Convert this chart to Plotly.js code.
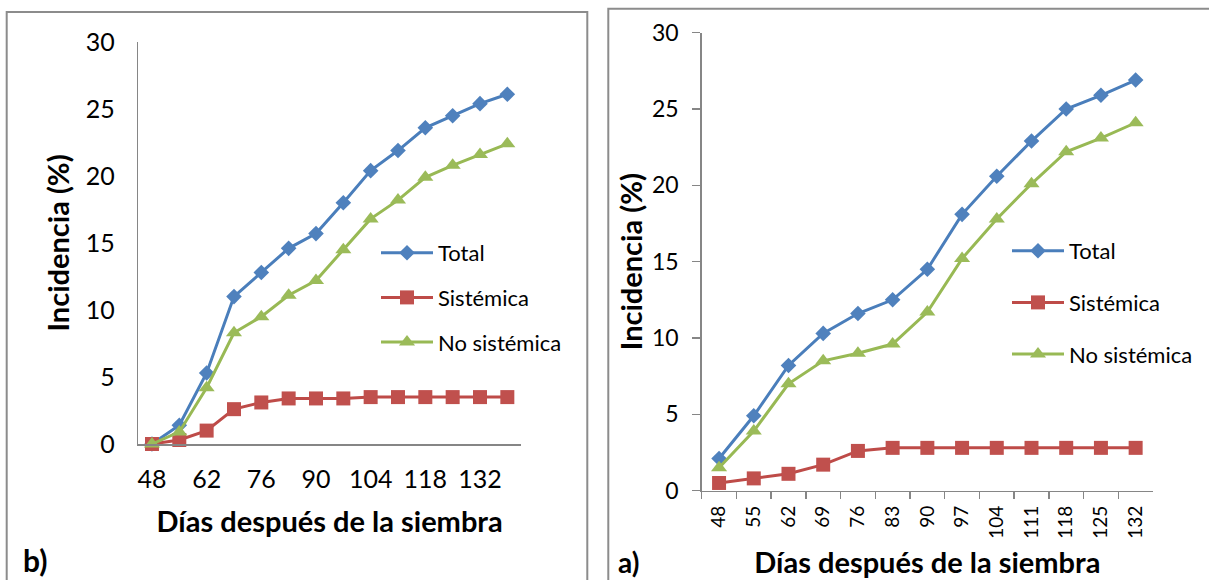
<!DOCTYPE html>
<html>
<head>
<meta charset="utf-8">
<script src="https://cdn.plot.ly/plotly-3.0.1.min.js"></script>
<style>html,body{margin:0;padding:0;background:#fff;}#chart{width:1209px;height:580px;}</style>
</head>
<body>
<div id="chart"></div>
<script>
// Panel b)
const daysB = ['48','55','62','69','76','83','90','97','104','111','118','125','132','139'];
const tickDaysB = ['48','62','76','90','104','118','132'];
const totalB = [0, 1.4, 5.3, 11.0, 12.8, 14.6, 15.7, 18.0, 20.4, 21.9, 23.6, 24.5, 25.4, 26.1];
const sistemicaB = [0, 0.3, 1.0, 2.6, 3.1, 3.4, 3.4, 3.4, 3.5, 3.5, 3.5, 3.5, 3.5, 3.5];
const noSistemicaB = [0, 0.9, 4.2, 8.3, 9.5, 11.1, 12.2, 14.5, 16.8, 18.2, 19.9, 20.8, 21.6, 22.4];

// Panel a)
const daysA = ['48','55','62','69','76','83','90','97','104','111','118','125','132'];
const totalA = [2.1, 4.9, 8.2, 10.3, 11.6, 12.5, 14.5, 18.1, 20.6, 22.9, 25.0, 25.9, 26.9];
const sistemicaA = [0.5, 0.8, 1.1, 1.7, 2.6, 2.8, 2.8, 2.8, 2.8, 2.8, 2.8, 2.8, 2.8];
const noSistemicaA = [1.5, 3.9, 7.0, 8.5, 9.0, 9.6, 11.7, 15.2, 17.8, 20.1, 22.2, 23.1, 24.1];

const yTicks = [0, 5, 10, 15, 20, 25, 30];
const seriesNames = ['Total', 'Sistémica', 'No sistémica'];

const W = 1209, H = 580;
const px = v => v / W;
const py = v => 1 - v / H;

const FONT = 'Lato, "Open Sans", sans-serif';
const blue = '#4A7EBB', red = '#BE4B48', green = '#98B954';
const mBlue = '#4F81BD', mRed = '#C0504D', mGreen = '#9BBB59';

function mk(x, y, name, color, mcolor, symbol, size, xa, ya, leg) {
  return {
    type: 'scatter', mode: 'lines+markers', x: x, y: y, name: name,
    xaxis: xa, yaxis: ya, legend: leg, legendgroup: leg + name,
    line: {color: color, width: 3},
    marker: {symbol: symbol, size: size, color: mcolor, line: {width: 0}},
    cliponaxis: false
  };
}

const data = [
  mk(daysB, totalB, seriesNames[0], blue, mBlue, 'diamond', 12, 'x', 'y', 'legend'),
  mk(daysB, sistemicaB, seriesNames[1], red, mRed, 'square', 14, 'x', 'y', 'legend'),
  mk(daysB, noSistemicaB, seriesNames[2], green, mGreen, 'triangle-up', 14, 'x', 'y', 'legend'),
  mk(daysA, totalA, seriesNames[0], blue, mBlue, 'diamond', 12, 'x2', 'y2', 'legend2'),
  mk(daysA, sistemicaA, seriesNames[1], red, mRed, 'square', 14, 'x2', 'y2', 'legend2'),
  mk(daysA, noSistemicaA, seriesNames[2], green, mGreen, 'triangle-up', 14, 'x2', 'y2', 'legend2')
];

const axisLine = '#868686';
const titleFont = {family: FONT, size: 29, color: '#000', weight: 700};

const layout = {
  width: W, height: H,
  margin: {l: 0, r: 0, t: 0, b: 0},
  paper_bgcolor: '#fff', plot_bgcolor: 'rgba(0,0,0,0)',
  font: {family: FONT, color: '#000'},
  showlegend: true,
  xaxis: {
    domain: [px(138.3), px(521)], anchor: 'y', type: 'category',
    range: [-0.5, 13.5], tickmode: 'array', tickvals: tickDaysB, ticktext: tickDaysB,
    showgrid: false, zeroline: false, showline: true, linecolor: axisLine, linewidth: 1.5,
    ticks: '', ticklabelstandoff: 12,
    tickfont: {family: FONT, size: 25, color: '#000'},
    title: {text: 'Días después de la siembra', font: titleFont, standoff: 20},
    automargin: false
  },
  yaxis: {
    domain: [py(444), py(42)], anchor: 'x',
    range: [0, 30], tickmode: 'array', tickvals: yTicks,
    showgrid: false, zeroline: false, showline: true, linecolor: axisLine, linewidth: 1.5,
    ticks: '', ticklabelstandoff: 17,
    tickfont: {family: FONT, size: 25, color: '#000'},
    title: {text: 'Incidencia (%)', font: titleFont, standoff: 7},
    automargin: false
  },
  xaxis2: {
    domain: [px(701.7), px(1153)], anchor: 'y2', type: 'category',
    range: [-0.5, 12.5], tickmode: 'array', tickvals: daysA, ticktext: daysA,
    tickson: 'boundaries', tickangle: -90,
    showgrid: false, zeroline: false, showline: true, linecolor: axisLine, linewidth: 1.5,
    ticks: 'outside', ticklen: 7, tickwidth: 1.5, tickcolor: axisLine, ticklabelstandoff: 6,
    tickfont: {family: FONT, size: 19, color: '#000'},
    title: {text: 'Días después de la siembra', font: titleFont, standoff: 15},
    automargin: false
  },
  yaxis2: {
    domain: [py(490.6), py(32.7)], anchor: 'x2',
    range: [0, 30], tickmode: 'array', tickvals: yTicks,
    showgrid: false, zeroline: false, showline: true, linecolor: axisLine, linewidth: 1.5,
    ticks: 'outside', ticklen: 8, tickwidth: 1.5, tickcolor: axisLine, ticklabelstandoff: 9,
    tickfont: {family: FONT, size: 23, color: '#000'},
    title: {text: 'Incidencia (%)', font: titleFont, standoff: 1},
    automargin: false
  },
  legend: {
    x: px(376), y: py(232), xanchor: 'left', yanchor: 'top',
    bgcolor: 'rgba(0,0,0,0)', borderwidth: 0, itemwidth: 52,
    traceorder: 'grouped', tracegroupgap: 13,
    font: {family: FONT, size: 22, color: '#000'}
  },
  legend2: {
    x: px(1007), y: py(230), xanchor: 'left', yanchor: 'top',
    bgcolor: 'rgba(0,0,0,0)', borderwidth: 0, itemwidth: 52,
    traceorder: 'grouped', tracegroupgap: 20,
    font: {family: FONT, size: 22, color: '#000'}
  },
  shapes: [
    {type: 'rect', xref: 'paper', yref: 'paper', x0: px(6.7), x1: px(587.3), y0: py(600), y1: py(12),
     line: {color: '#8c8c8c', width: 2}, fillcolor: 'rgba(0,0,0,0)', layer: 'below'},
    {type: 'rect', xref: 'paper', yref: 'paper', x0: px(608.3), x1: px(1230), y0: py(600), y1: py(8.7),
     line: {color: '#8c8c8c', width: 2}, fillcolor: 'rgba(0,0,0,0)', layer: 'below'}
  ],
  annotations: [
    {text: 'b)', xref: 'paper', yref: 'paper', x: px(21), y: py(560), xanchor: 'left', yanchor: 'middle',
     showarrow: false, font: {family: FONT, size: 30, color: '#000', weight: 700}},
    {text: 'a)', xref: 'paper', yref: 'paper', x: px(616), y: py(562), xanchor: 'left', yanchor: 'middle',
     showarrow: false, font: {family: FONT, size: 28, color: '#000', weight: 700}}
  ]
};

Plotly.newPlot('chart', data, layout, {displayModeBar: false, staticPlot: true});
</script>
</body>
</html>
